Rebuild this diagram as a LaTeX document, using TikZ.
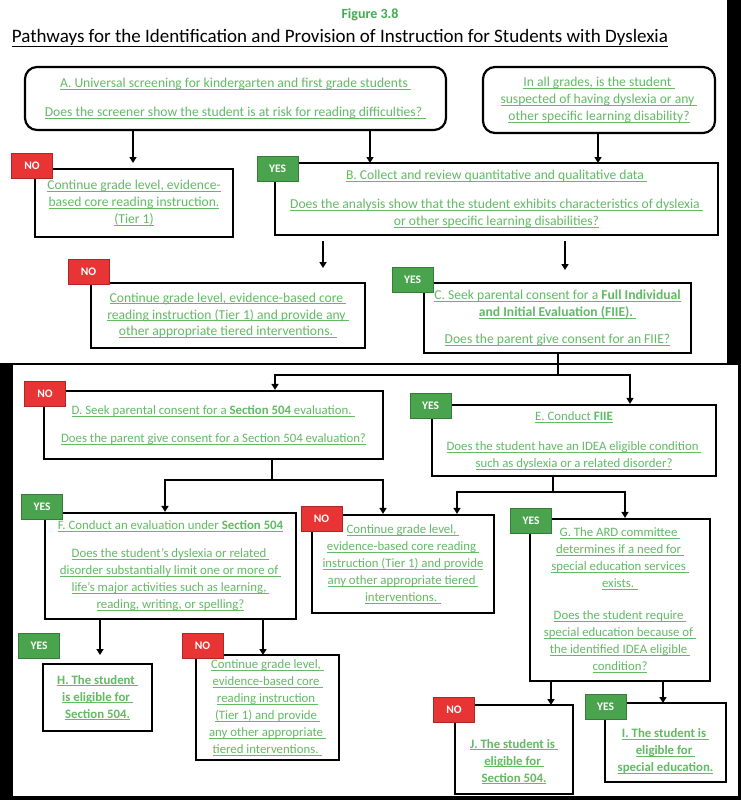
\documentclass[tikz,border=0pt]{standalone}
\usepackage{fontspec}
\setmainfont{Carlito}
\usetikzlibrary{arrows.meta,calc}
\definecolor{tgreen}{RGB}{98,186,100}
\definecolor{tagred}{RGB}{232,52,52}
\definecolor{taggreen}{RGB}{74,164,78}
\definecolor{figgreen}{RGB}{64,172,84}
\newcommand{\ul}[1]{\setbox0\hbox{#1}\rlap{\rule[-1.8pt]{\wd0}{0.65pt}}\box0}
\newcommand{\jstrut}{\rule{0pt}{33pt}}
\newcommand{\istrut}{\rule{0pt}{26pt}}
\tikzset{
  box/.style={draw=black, line width=2.2pt, fill=white, align=center, inner sep=0pt,
    text=tgreen, font=\fontsize{12.8}{17}\selectfont},
  boxtop/.style={box, font=\fontsize{13.6}{16.8}\selectfont},
  rbox/.style={boxtop, rounded corners=12pt},
  boldbox/.style={box, font=\fontsize{12.8}{17}\selectfont\bfseries},
  tagbase/.style={line width=0.6pt, text=white, inner sep=0pt,
    minimum width=41pt, minimum height=25pt, font=\fontsize{11.5}{13}\selectfont\bfseries},
  tagno/.style={tagbase, fill=tagred, draw=tagred!75!black},
  tagyes/.style={tagbase, fill=taggreen, draw=taggreen!75!black},
  ln/.style={line width=2.2pt, draw=black},
  arr/.style={ln, -{Triangle[length=6pt,width=7pt]}},
}
\begin{document}
\begin{tikzpicture}[x=1pt,y=-1pt]
% background panels
\fill[black] (0,0) rectangle (741,800);
\fill[white] (0,0) rectangle (727,363);
\fill[white] (13,365) rectangle (738,796);
\useasboundingbox (0,0) rectangle (741,800);

% titles
\node[text=figgreen, font=\fontsize{14}{16}\selectfont\bfseries] (fig) at (370,15) {Figure 3.8};
\node[text=black, font=\fontsize{19}{22}\selectfont] (title) at (340,38)
  {\underline{Pathways for the Identification and Provision of Instruction for Students with Dyslexia}};

% boxes
\node[rbox, minimum width=421pt, minimum height=63pt] (A) at (235.5,98.5)
  {\ul{A. Universal screening for kindergarten and first grade students }\\[12pt]
   \ul{Does the screener show the student is at risk for reading difficulties? }};
\node[rbox, minimum width=232pt, minimum height=66pt] (TR) at (599,100)
  {\ul{In all grades, is the student }\\ \ul{suspected of having dyslexia or any }\\ \ul{other specific learning disability?}};
\node[boxtop, minimum width=198pt, minimum height=68pt] (N1) at (134,203)
  {\ul{Continue grade level, evidence-}\\ \ul{based core reading instruction.}\\ \ul{(Tier 1)}};
\node[boxtop, minimum width=443pt, minimum height=72pt] (B) at (496.5,199)
  {\ul{B. Collect and review quantitative and qualitative data }\\[12pt]
   \ul{Does the analysis show that the student exhibits characteristics of dyslexia }\\
   \ul{or other specific learning disabilities?}};
\node[boxtop, minimum width=274pt, minimum height=65pt] (N2) at (228,315.5)
  {\ul{Continue grade level, evidence-based core }\\ \ul{reading instruction (Tier 1) and provide any }\\ \ul{other appropriate tiered interventions. }};
\node[boxtop, minimum width=267pt, minimum height=70pt] (C) at (557.5,318)
  {\ul{C. Seek parental consent for a \textbf{Full Individual}}\\ \ul{\textbf{and Initial Evaluation (FIIE). }}\\[10pt]
   \ul{Does the parent give consent for an FIIE?}};
\node[box, minimum width=339pt, minimum height=68pt] (D) at (213.5,425)
  {\ul{D. Seek parental consent for a \textbf{Section 504} evaluation. }\\[11pt]
   \ul{Does the parent give consent for a Section 504 evaluation?}};
\node[box, minimum width=284pt, minimum height=71pt] (E) at (574,440.5)
  {\ul{E. Conduct \textbf{FIIE}}\\[13pt]
   \ul{Does the student have an IDEA eligible condition }\\ \ul{such as dyslexia or a related disorder?}};
\node[box, minimum width=251pt, minimum height=106pt] (F) at (170.5,566)
  {\ul{F. Conduct an evaluation under \textbf{Section 504}}\\[11pt]
   \ul{Does the student’s dyslexia or related }\\ \ul{disorder substantially limit one or more of }\\
   \ul{life’s major activities such as learning, }\\ \ul{reading, writing, or spelling?}};
\node[box, minimum width=182pt, minimum height=98pt] (N3) at (403,564)
  {\ul{Continue grade level, }\\ \ul{evidence-based core reading }\\ \ul{instruction (Tier 1) and provide}\\
   \ul{any other appropriate tiered }\\ \ul{interventions. }};
\node[box, minimum width=180pt, minimum height=162pt] (G) at (620,600)
  {\ul{G. The ARD committee }\\ \ul{determines if a need for }\\ \ul{special education services }\\ \ul{exists. }\\[15pt]
   \ul{Does the student require }\\ \ul{special education because of }\\ \ul{the identified IDEA eligible }\\ \ul{condition?}};
\node[boldbox, minimum width=109pt, minimum height=67pt] (H) at (97.5,697.5)
  {\ul{H. The student }\\ \ul{is eligible for }\\ \ul{Section 504.}};
\node[box, minimum width=143pt, minimum height=105pt] (N4) at (267.5,707.5)
  {\ul{Continue grade level, }\\ \ul{evidence-based core }\\ \ul{reading instruction }\\ \ul{(Tier 1) and provide }\\
   \ul{any other appropriate }\\ \ul{tiered interventions. }};
\node[boldbox, minimum width=118pt, minimum height=89pt] (J) at (514,749.5)
  {\jstrut\ul{J. The student is }\\ \ul{eligible for }\\ \ul{Section 504.}};
\node[boldbox, minimum width=121pt, minimum height=79pt] (I) at (665.5,742.5)
  {\istrut\ul{I. The student is }\\ \ul{eligible for }\\ \ul{special education.}};

% tags
\node[tagno]  (t1)  at (32,165.5)  {NO};
\node[tagyes] (t2)  at (277.5,169) {YES};
\node[tagno]  (t3)  at (88.5,271.5){NO};
\node[tagyes] (t4)  at (412.5,280) {YES};
\node[tagno]  (t5)  at (45,394)    {NO};
\node[tagyes] (t6)  at (430.5,406) {YES};
\node[tagyes] (t7)  at (42,507)    {YES};
\node[tagno]  (t8)  at (321.5,519) {NO};
\node[tagyes] (t9)  at (531,521)   {YES};
\node[tagyes] (t10) at (39,646)    {YES};
\node[tagno]  (t11) at (202.5,646) {NO};
\node[tagno]  (t12) at (454,709.5) {NO};
\node[tagyes] (t13) at (605.5,706.5){YES};

% connector coordinates
\coordinate (a1) at (133,163);
\coordinate (a2) at (370,163);
\coordinate (a3) at (598,163);
\coordinate (b1) at (323,268);
\coordinate (b2) at (565,270);
\coordinate (j1) at (558,375);
\coordinate (jl) at (275,375);
\coordinate (jr) at (630,375);
\coordinate (d0) at (272,480);
\coordinate (dl) at (165,480);
\coordinate (dr) at (383,480);
\coordinate (e0) at (553,492);
\coordinate (el) at (457,492);
\coordinate (er) at (625,492);
\coordinate (f1) at (100,655);
\coordinate (f2) at (263,655);
\coordinate (g1) at (551,705);
\coordinate (g2) at (663,703);

% connectors
\draw[arr] (A.south -| a1) -- (a1);
\draw[arr] (A.south -| a2) -- (a2);
\draw[arr] (TR.south -| a3) -- (a3);
\draw[arr, shorten <=5pt] (B.south -| b1) -- (b1);
\draw[arr, shorten <=5pt] (B.south -| b2) -- (b2);
\draw[ln] (C.south -| j1) -- (j1);
\draw[ln, line cap=rect] (jl) -- (jr);
\draw[arr] (jl) -- (jl |- D.north);
\draw[arr] (jr) -- (jr |- E.north);
\draw[ln] (D.south -| d0) -- (d0);
\draw[ln, line cap=rect] (dl) -- (dr);
\draw[arr] (dl) -- (dl |- F.north);
\draw[arr] (dr) -- (dr |- N3.north);
\draw[ln] (E.south -| e0) -- (e0);
\draw[ln, line cap=rect] (el) -- (er);
\draw[arr] (el) -- (el |- N3.north);
\draw[arr] (er) -- (er |- G.north);
\draw[arr] (F.south -| f1) -- (f1);
\draw[arr] (F.south -| f2) -- (f2);
\draw[arr] (G.south -| g1) -- (g1);
\draw[arr] (G.south -| g2) -- (g2);
\end{tikzpicture}
\end{document}
